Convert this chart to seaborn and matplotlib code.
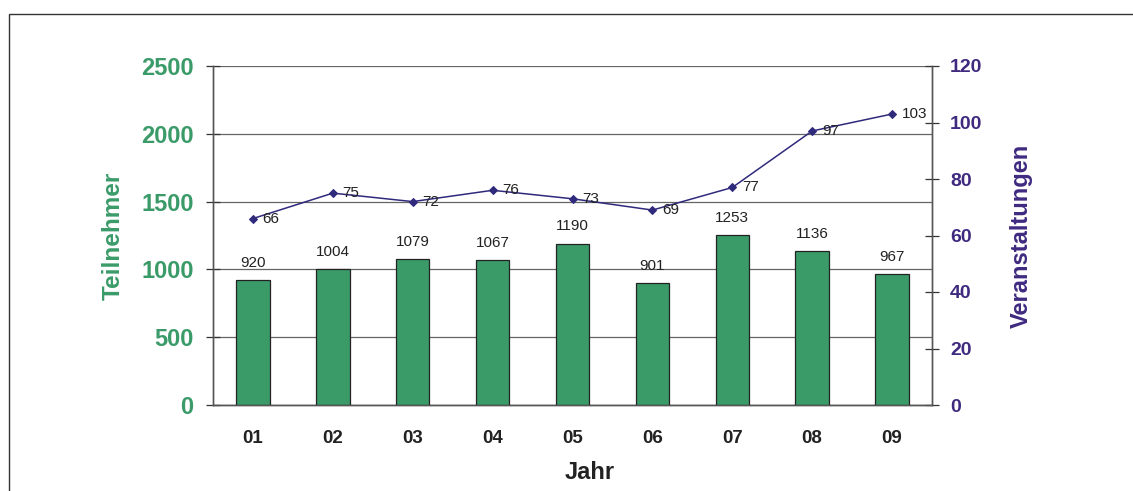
import numpy as np
import pandas as pd
import matplotlib
matplotlib.use("Agg")
import matplotlib.pyplot as plt
import seaborn as sns
from matplotlib.patches import Rectangle

# data
jahre = ["01", "02", "03", "04", "05", "06", "07", "08", "09"]
teilnehmer = [920, 1004, 1079, 1067, 1190, 901, 1253, 1136, 967]
veranstaltungen = [66, 75, 72, 76, 73, 69, 77, 97, 103]

green = "#3a9b69"
purple = "#3f2a80"
line_col = "#2f2a7c"

sns.set_style("white")
plt.rcParams["font.family"] = ["Liberation Sans", "DejaVu Sans"]

df = pd.DataFrame({"Jahr": jahre, "Teilnehmer": teilnehmer, "Veranstaltungen": veranstaltungen})

fig = plt.figure(figsize=(11.33, 4.91), dpi=100)
ax = fig.add_axes([213 / 1133, 1 - 405 / 491, (932 - 213) / 1133, (405 - 66) / 491])

# outer frame (cut off on right and bottom like the reference)
fig.patches.append(Rectangle((9 / 1133, -0.2), 1.2, 1.2 - 14 / 491,
                             transform=fig.transFigure, fill=False,
                             edgecolor="#333333", linewidth=1.0))

sns.barplot(data=df, x="Jahr", y="Teilnehmer", color=green, width=0.42,
            edgecolor="#222222", linewidth=0.9, saturation=1, ax=ax, zorder=3)
ax.set_ylim(0, 2500)
ax.set_xlim(-0.5, len(jahre) - 0.5)
ax.set_yticks(range(0, 2501, 500))
ax.grid(axis="y", color="#666666", linewidth=0.9, zorder=0)
ax.set_axisbelow(True)

for i, v in enumerate(teilnehmer):
    ax.text(i, v + 75, str(v), ha="center", va="bottom", fontsize=11, color="#222222", zorder=5)

ax2 = ax.twinx()
sns.lineplot(x=np.arange(len(jahre)), y=veranstaltungen, color=line_col, marker="D",
             markersize=4.5, linewidth=1.1, markeredgecolor=line_col, ax=ax2)
ax2.set_ylim(0, 120)
ax2.set_yticks(range(0, 121, 20))
ax2.set_xlim(-0.5, len(jahre) - 0.5)
for i, v in enumerate(veranstaltungen):
    ax2.text(i + 0.12, v, str(v), ha="left", va="center", fontsize=11, color="#222222")

# axes styling
for a in (ax, ax2):
    for s in a.spines.values():
        s.set_color("#555555")
        s.set_linewidth(1.0)
    a.spines["top"].set_visible(False)

ax.set_xticks(range(len(jahre)))
ax.set_xticklabels(jahre, fontsize=13.5, fontweight="bold", color="#222222")
ax.set_xticks(np.arange(-0.5, len(jahre), 1.0), minor=True)
ax.tick_params(axis="x", which="major", length=0, pad=18)
ax.tick_params(axis="x", which="minor", direction="inout", length=10, color="#333333", width=0.9)
ax.tick_params(axis="y", direction="inout", length=10, color="#333333", width=0.9, pad=9,
               labelsize=17, labelcolor=green)
for t in ax.get_yticklabels():
    t.set_fontweight("bold")
ax2.tick_params(axis="y", direction="inout", length=10, color="#333333", width=0.9, pad=8,
                labelsize=14, labelcolor=purple)
for t in ax2.get_yticklabels():
    t.set_fontweight("bold")

ax.set_xlabel("Jahr", fontsize=17, fontweight="bold", color="#222222")
ax.xaxis.set_label_coords((590 - 213) / 719, -0.165)
ax.set_ylabel("Teilnehmer", fontsize=17.5, fontweight="bold", color=green, labelpad=12)
ax2.set_ylabel("Veranstaltungen", fontsize=17, fontweight="bold", color=purple, labelpad=20)

fig.savefig("out.png", dpi=100)
